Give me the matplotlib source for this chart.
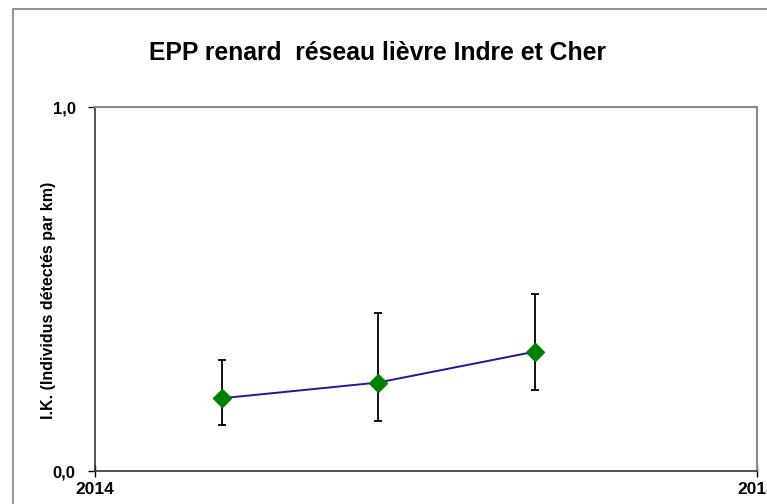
import matplotlib.pyplot as plt
from matplotlib.patches import Rectangle

plt.rcParams['font.family'] = ['Liberation Sans', 'DejaVu Sans']

# data
years = [2014.77, 2015.71, 2016.66]
ik = [0.200, 0.243, 0.328]
ik_low = [0.126, 0.137, 0.223]
ik_high = [0.305, 0.435, 0.485]

err_low = [v - lo for v, lo in zip(ik, ik_low)]
err_high = [hi - v for v, hi in zip(ik, ik_high)]

fig = plt.figure(figsize=(7.67, 5.04), dpi=100)
fig.patches.append(Rectangle((13 / 767, -0.1), 1.0, 1.1 - 9 / 504, transform=fig.transFigure,
                             fill=False, edgecolor='#808080', linewidth=1.2))

ax = fig.add_axes([95 / 767, 33 / 504, 662 / 767, 364 / 504])

ax.errorbar(years, ik, yerr=[err_low, err_high], fmt='none', ecolor='black',
            elinewidth=1.3, capsize=3, capthick=1.3, zorder=2)
ax.plot(years, ik, color='#1a1a99', linewidth=1.4, zorder=3)
ax.plot(years, ik, linestyle='none', marker='D', markersize=9, color='#008000', zorder=4)

ax.set_xlim(2014, 2018)
ax.set_ylim(0, 1)
ax.set_xticks([2014, 2018])
ax.set_xticklabels(['2014', '2018'], fontsize=12.5, fontweight='bold')
ax.set_yticks([0, 1])
ax.set_yticklabels(['0,0', '1,0'], fontsize=12, fontweight='bold')
ax.tick_params(axis='y', direction='out', length=5, width=1, pad=9)
ax.tick_params(axis='x', direction='inout', length=8, width=1, pad=4)
for t in ax.get_xticklabels():
    t.set_clip_on(False)

for side in ['top', 'right']:
    ax.spines[side].set_color('#8c8c8c')
    ax.spines[side].set_linewidth(1.5)
for side in ['left', 'bottom']:
    ax.spines[side].set_color('#333333')
    ax.spines[side].set_linewidth(1.2)

ax.set_ylabel('I.K. (Individus détectés par km)', fontsize=11.5, fontweight='bold')
ax.yaxis.set_label_coords(-0.059, 0.47)

fig.text(0.492, 1 - 53 / 504, 'EPP renard  réseau lièvre Indre et Cher', ha='center', va='center',
         fontsize=17.8, fontweight='bold')

fig.savefig('out.png', dpi=100)
